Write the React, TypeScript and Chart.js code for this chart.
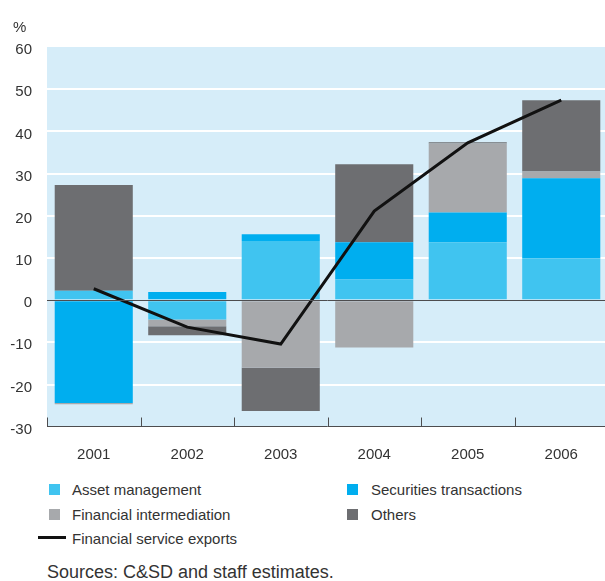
import React, { useEffect, useRef } from "react";
import { Chart, registerables } from "chart.js";

Chart.register(...registerables);

const years = ["2001", "2002", "2003", "2004", "2005", "2006"];
const assetManagement = [2.2, -4.6, 14.0, 4.9, 13.7, 9.9];
const securitiesTransactions = [-24.4, 1.9, 1.6, 8.8, 7.1, 19.0];
const financialIntermediation = [-0.3, -1.6, -16.0, -11.2, 16.3, 1.6];
const others = [25.1, -2.1, -10.3, 18.5, 0.3, 16.9];
const financialServiceExports = [2.7, -6.4, -10.4, 21.1, 37.3, 47.4];
const yTicks = [-30, -20, -10, 0, 10, 20, 30, 40, 50, 60];

const COLORS = {
  asset: "#40C4F0",
  securities: "#00AEEF",
  inter: "#A7A9AC",
  others: "#6D6E71",
  line: "#111111",
  bg: "#D6EDF9",
  axis: "#4D4D4F",
  text: "#333333",
};

const FONT = "'Liberation Sans', Arial, Helvetica, sans-serif";

const plotPlugin = {
  id: "plotDecor",
  beforeDraw(chart: any) {
    const { ctx, chartArea } = chart;
    ctx.save();
    ctx.fillStyle = COLORS.bg;
    ctx.fillRect(chartArea.left, chartArea.top, chartArea.right - chartArea.left, chartArea.bottom - chartArea.top);
    ctx.restore();
  },
  afterDatasetsDraw(chart: any) {
    const { ctx, chartArea, scales } = chart;
    const y0 = scales.y.getPixelForValue(0);
    ctx.save();
    ctx.strokeStyle = COLORS.axis;
    ctx.lineWidth = 1;
    ctx.beginPath();
    ctx.moveTo(chartArea.left, Math.round(y0) + 0.5);
    ctx.lineTo(chartArea.right, Math.round(y0) + 0.5);
    ctx.stroke();
    const yb = Math.round(chartArea.bottom) - 0.5;
    ctx.beginPath();
    ctx.moveTo(chartArea.left, yb);
    ctx.lineTo(chartArea.right, yb);
    ctx.stroke();
    const n = years.length;
    const w = (chartArea.right - chartArea.left) / n;
    for (let i = 0; i <= n; i++) {
      const x = Math.round(chartArea.left + i * w) + 0.5;
      ctx.beginPath();
      ctx.moveTo(x, yb);
      ctx.lineTo(x, yb - 9);
      ctx.stroke();
    }
    ctx.restore();
  },
};

function App() {
  const canvasRef = useRef<HTMLCanvasElement | null>(null);

  useEffect(() => {
    if (!canvasRef.current) return;
    const bar = (label: string, data: number[], color: string) => ({
      type: "bar" as const,
      label,
      data,
      backgroundColor: color,
      borderWidth: 0,
      stack: "s",
      order: 1,
      barPercentage: 0.835,
      categoryPercentage: 1,
    });
    const chart = new Chart(canvasRef.current, {
      type: "bar",
      data: {
        labels: years,
        datasets: [
          bar("Asset management", assetManagement, COLORS.asset),
          bar("Securities transactions", securitiesTransactions, COLORS.securities),
          bar("Financial intermediation", financialIntermediation, COLORS.inter),
          bar("Others", others, COLORS.others),
          {
            type: "line" as const,
            label: "Financial service exports",
            data: financialServiceExports,
            borderColor: COLORS.line,
            borderWidth: 3,
            pointRadius: 0,
            tension: 0,
            fill: false,
            stack: "l",
            order: 0,
          } as any,
        ],
      },
      options: {
        animation: false,
        responsive: false,
        maintainAspectRatio: false,
        layout: { padding: { top: 47, left: 0, right: 0, bottom: 0 } },
        plugins: { legend: { display: false }, tooltip: { enabled: false } },
        scales: {
          x: {
            stacked: true,
            grid: { display: false },
            border: { display: false },
            ticks: {
              color: COLORS.text,
              font: { family: FONT, size: 15 },
              padding: 11,
              maxRotation: 0,
            },
            afterFit: (s: any) => {
              s.height = 470 - 426.7;
            },
          },
          y: {
            stacked: true,
            min: -30,
            max: 60,
            afterBuildTicks: (s: any) => {
              s.ticks = yTicks.map((v) => ({ value: v }));
            },
            grid: {
              drawTicks: false,
              lineWidth: 2,
              color: (c: any) =>
                c.tick && (c.tick.value === 0 || c.tick.value === -30 || c.tick.value === 60)
                  ? "rgba(0,0,0,0)"
                  : "#FFFFFF",
            },
            border: { display: false },
            ticks: {
              color: COLORS.text,
              font: { family: FONT, size: 15 },
              padding: 15,
              labelOffset: 3,
            },
            afterFit: (s: any) => {
              s.width = 47;
            },
          },
        },
      },
      plugins: [plotPlugin],
    } as any);
    return () => chart.destroy();
  }, []);

  const text: React.CSSProperties = {
    position: "absolute",
    fontFamily: FONT,
    fontSize: 15,
    lineHeight: "15px",
    color: COLORS.text,
    whiteSpace: "nowrap",
  };
  const sq = (left: number, top: number, color: string): React.CSSProperties => ({
    position: "absolute",
    left,
    top,
    width: 11,
    height: 11,
    background: color,
  });

  return (
    <div style={{ position: "fixed", left: 0, top: 0, width: 605, height: 581, overflow: "hidden", background: "#fff" }}>
      <canvas ref={canvasRef} width={608} height={470} style={{ position: "absolute", left: 0, top: 0, width: 608, height: 470 }} />
      <div style={{ ...text, left: 13, top: 19 }}>%</div>
      <div style={sq(49, 484, COLORS.asset)} />
      <div style={{ ...text, left: 72, top: 482.3 }}>Asset management</div>
      <div style={sq(347, 484, COLORS.securities)} />
      <div style={{ ...text, left: 371, top: 482.3 }}>Securities transactions</div>
      <div style={sq(49, 509, COLORS.inter)} />
      <div style={{ ...text, left: 72, top: 507.3 }}>Financial intermediation</div>
      <div style={sq(347, 509, COLORS.others)} />
      <div style={{ ...text, left: 371, top: 507.3 }}>Others</div>
      <div style={{ position: "absolute", left: 38, top: 536, width: 28, height: 3, background: COLORS.line }} />
      <div style={{ ...text, left: 72, top: 530.5 }}>Financial service exports</div>
      <div style={{ ...text, left: 47, top: 563, fontSize: 18, lineHeight: "18px" }}>Sources: C&amp;SD and staff estimates.</div>
    </div>
  );
}

export default App;
